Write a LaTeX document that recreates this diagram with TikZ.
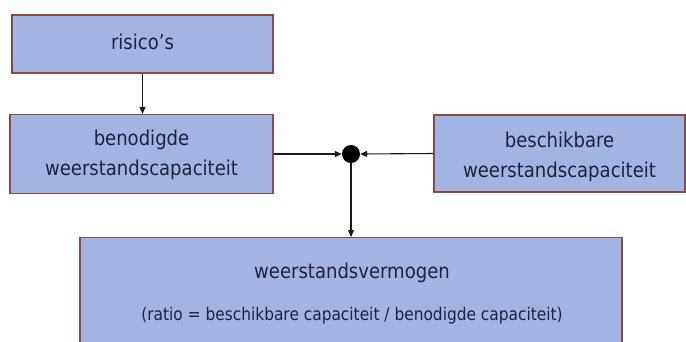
\documentclass[tikz,border=0pt]{standalone}
\usepackage{fontspec}
\setmainfont{DejaVu Sans}[FakeStretch=0.88]
\usetikzlibrary{arrows.meta}
\definecolor{boxfill}{RGB}{162,180,226}
\definecolor{boxline}{RGB}{140,75,62}
\definecolor{txt}{RGB}{28,35,64}
\definecolor{arr}{RGB}{25,25,35}
\tikzset{
  box/.style={draw=boxline, line width=1.1pt, fill=boxfill, inner sep=0pt},
  lbl/.style={text=txt, font=\fontsize{20.5}{30}\selectfont, align=center},
  conn/.style={draw=arr, line width=1.1pt, -{Triangle[length=7pt,width=6pt]}},
}
\begin{document}
\begin{tikzpicture}[x=1pt,y=-1pt]
\useasboundingbox (0,0) rectangle (686,341);
\begin{scope}
\clip (0,0) rectangle (686,341);
\node[box, minimum width=261pt, minimum height=58pt] (risk) at (142.5,44) {};
\node[box, minimum width=263pt, minimum height=79pt] (need) at (141.5,154) {};
\node[box, minimum width=251pt, minimum height=77pt] (have) at (559.5,153.5) {};
\node[box, anchor=north, minimum width=542pt, minimum height=120pt] (res) at (351,237) {};
\end{scope}
\node[lbl] at (142.5,42) {risico’s};
\node[lbl] at (141.5,155) {benodigde\\weerstandscapaciteit};
\node[lbl] at (559.5,157) {beschikbare\\weerstandscapaciteit};
\node[lbl] at (352,273) {weerstandsvermogen};
\node[text=txt, font=\fontsize{17.5}{20}\selectfont] at (352,316) {(ratio = beschikbare capaciteit / benodigde capaciteit)};
\node[circle, fill=black, minimum size=18pt, inner sep=0pt] (dot) at (351,154) {};
\draw[conn] (risk.south) -- (risk.south |- need.north);
\draw[conn] (need.east) -- (dot.west);
\draw[conn] (have.west) -- (dot.east);
\draw[conn] (dot.south) -- (res.north -| dot);
\end{tikzpicture}
\end{document}
